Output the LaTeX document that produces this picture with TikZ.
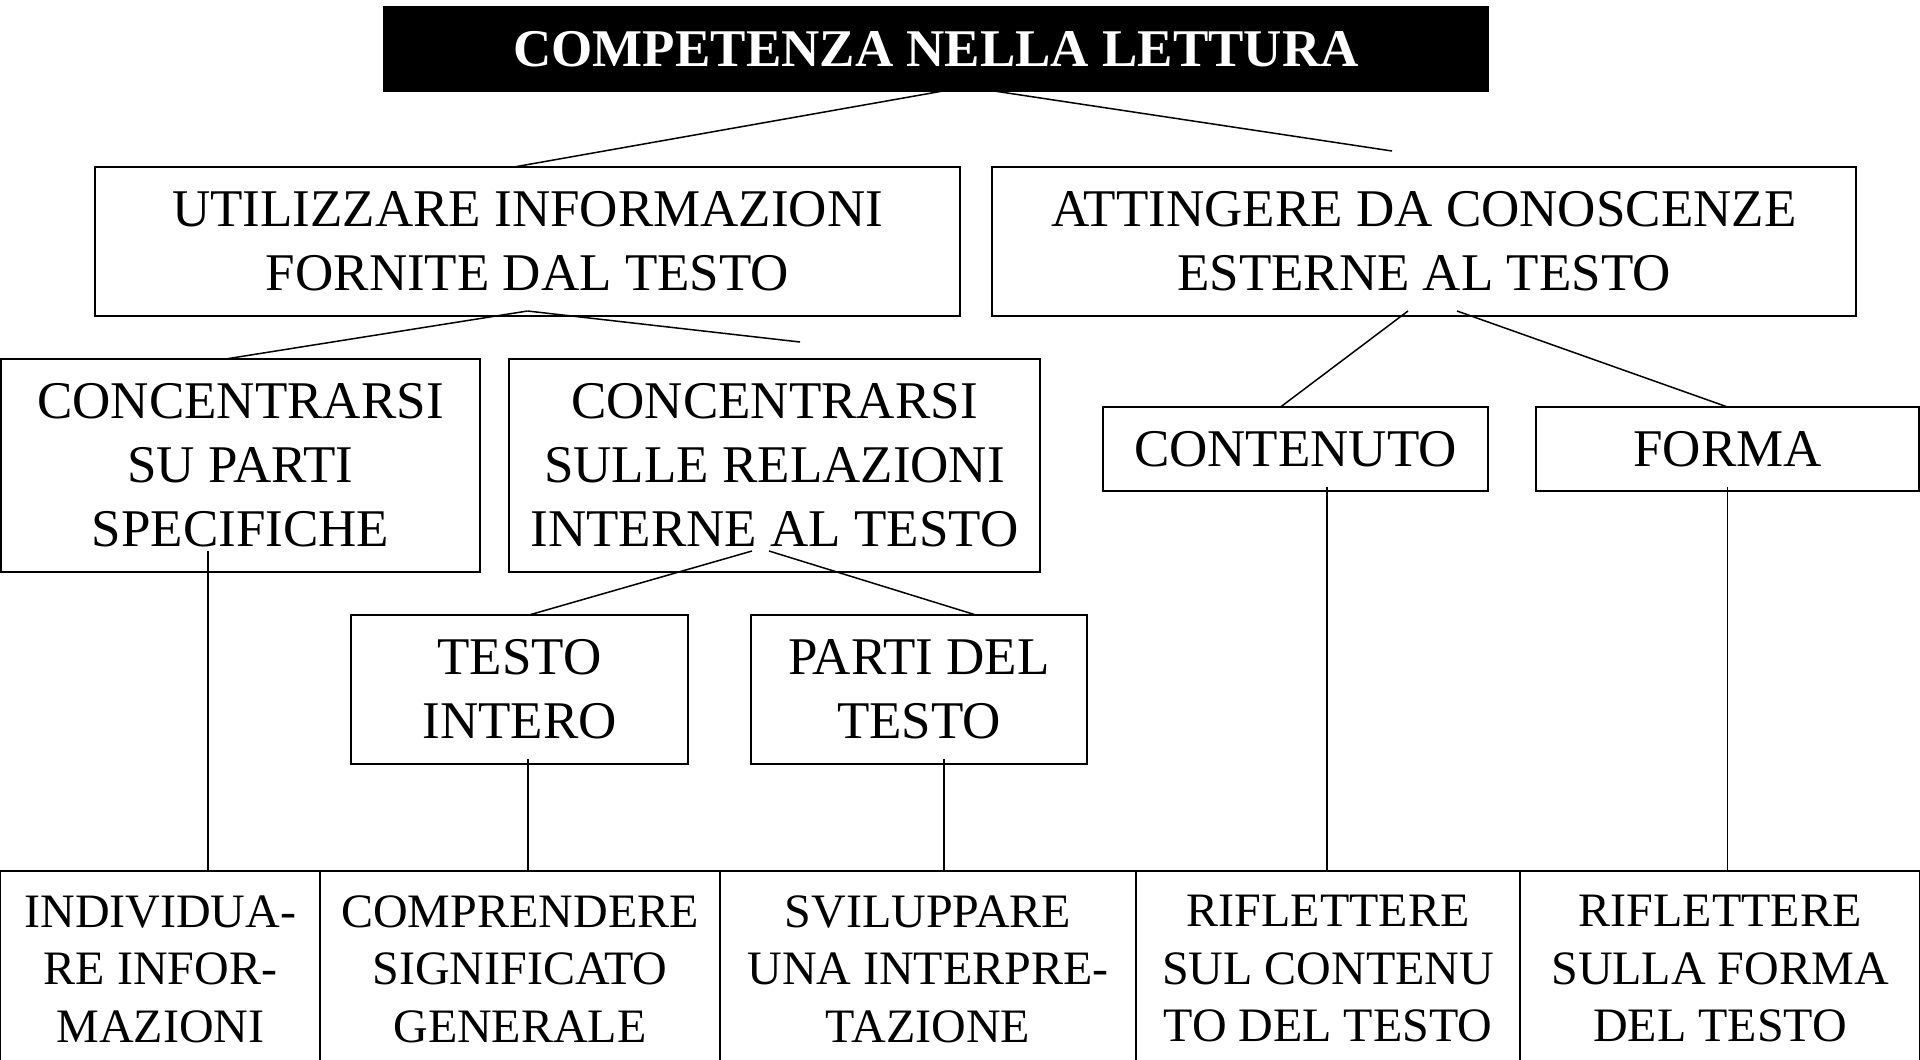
\documentclass[tikz,border=0pt]{standalone}
\usepackage{fontspec}
\setmainfont{Liberation Serif}
\usetikzlibrary{positioning}

\begin{document}
\begin{tikzpicture}[x=1pt, y=-1pt,
	main/.style = {draw, line width=1.4pt, align=center, inner sep=0pt, outer sep=0pt, font=\fontsize{53}{64}\selectfont},
	title/.style = {main, fill=black, text=white, font=\fontsize{53}{64}\selectfont\bfseries},
	cell/.style = {main, minimum height=196pt, font=\fontsize{48}{57.5}\selectfont},
	link/.style = {draw, line width=1.5pt},
	drop/.style = {draw, line width=1.3pt}]
	\useasboundingbox (0,0) rectangle (1920,1060);
	% tree
	\node[title, minimum width=1104pt, minimum height=84pt] (top) at (936,49) {COMPETENZA NELLA LETTURA};
	\node[main, minimum width=865pt, minimum height=149pt] (util) at (527.5,241.5) {UTILIZZARE INFORMAZIONI\\FORNITE DAL TESTO};
	\node[main, minimum width=864pt, minimum height=149pt] (att) [right=32pt of util] {ATTINGERE DA CONOSCENZE\\ESTERNE AL TESTO};
	\node[main, minimum width=479pt, minimum height=213pt] (conc1) at (240.5,465.5) {CONCENTRARSI\\SU PARTI\\SPECIFICHE};
	\node[main, minimum width=531pt, minimum height=213pt] (conc2) [right=29pt of conc1] {CONCENTRARSI\\SULLE RELAZIONI\\INTERNE AL TESTO};
	\node[main, minimum width=385pt, minimum height=84pt] (cont) at (1295.5,449) {CONTENUTO};
	\node[main, minimum width=383pt, minimum height=84pt] (forma) [right=48pt of cont] {FORMA};
	\node[main, minimum width=337pt, minimum height=149pt] (intero) at (519.5,689.5) {TESTO\\INTERO};
	\node[main, minimum width=336pt, minimum height=149pt] (parti) [right=63pt of intero] {PARTI DEL\\TESTO};
	% bottom row
	\node[cell, minimum width=319.3pt, anchor=north west] (b1) at (0.7,871) {INDIVIDUA-\\RE INFOR-\\MAZIONI};
	\node[cell, minimum width=400pt] (b2) [right=0pt of b1] {COMPRENDERE\\SIGNIFICATO\\GENERALE};
	\node[cell, minimum width=416pt] (b3) [right=0pt of b2] {SVILUPPARE\\UNA INTERPRE-\\TAZIONE};
	\node[cell, minimum width=384pt] (b4) [right=0pt of b3] {RIFLETTERE\\SUL CONTENU\\TO DEL TESTO};
	\node[cell, minimum width=400pt] (b5) [right=0pt of b4] {RIFLETTERE\\SULLA FORMA\\DEL TESTO};
	\coordinate (attend) at (1392,151);
	\coordinate (conc2end) at (800,342);
	\path[link]
	([xshift=7pt]top.south) edge ([xshift=-13.5pt]util.north)
	([xshift=58pt]top.south) edge (attend)
	([yshift=5pt]util.south) edge ([xshift=-15pt]conc1.north)
	([yshift=5pt]util.south) edge (conc2end)
	([xshift=-16pt,yshift=5pt]att.south) edge ([xshift=-15pt]cont.north)
	([xshift=33pt,yshift=5pt]att.south) edge (forma.north)
	([xshift=-22.5pt,yshift=21pt]conc2.south) edge ([xshift=9.5pt]intero.north)
	([xshift=-5.5pt,yshift=21pt]conc2.south) edge ([xshift=57pt]parti.north);
	% drops to the bottom row
	\draw[drop] ([xshift=-32.5pt,yshift=21pt]conc1.south) coordinate (d1) -- (d1 |- b1.north);
	\draw[drop] ([xshift=8.5pt,yshift=5pt]intero.south) coordinate (d2) -- (d2 |- b2.north);
	\draw[drop] ([xshift=25pt,yshift=5pt]parti.south) coordinate (d3) -- (d3 |- b3.north);
	\draw[drop] ([xshift=31.5pt,yshift=4pt]cont.south) coordinate (d4) -- (d4 |- b4.north);
	\draw[drop] ([yshift=4pt]forma.south) coordinate (d5) -- (d5 |- b5.north);
\end{tikzpicture}
\end{document}
